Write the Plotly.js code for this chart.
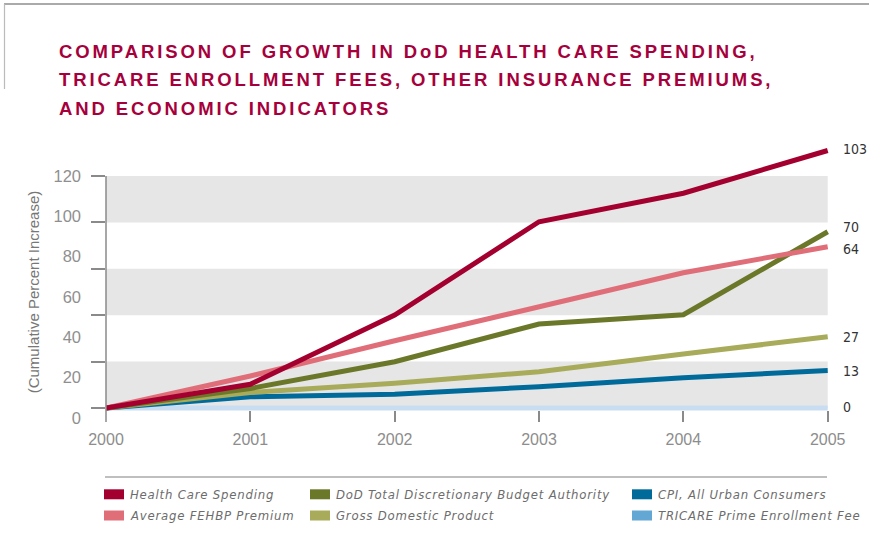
<!DOCTYPE html>
<html>
<head>
<meta charset="utf-8">
<script src="https://cdn.plot.ly/plotly-3.0.1.min.js"></script>
<style>
  html, body { margin: 0; padding: 0; background: #ffffff; }
  #chart { width: 869px; height: 554px; }
  /* title lines: letter-spaced */
  .annotation[data-index="0"] text, .annotation[data-index="1"] text, .annotation[data-index="2"] text {
    letter-spacing: 2.9px;
  }
  /* legend labels */
  .annotation[data-index="3"] text, .annotation[data-index="4"] text, .annotation[data-index="5"] text,
  .annotation[data-index="6"] text, .annotation[data-index="7"] text, .annotation[data-index="8"] text {
    letter-spacing: 0.8px;
  }
</style>
</head>
<body>
<div id="chart"></div>
<script>
// ---------------- DATA ----------------
const years = [2000, 2001, 2002, 2003, 2004, 2005];

const healthCareSpending = [0, 9.5, 37.2, 74.5, 85.9, 103];
const averageFehbpPremium = [0, 12.8, 26.9, 40.5, 54.1, 64.5];
const dodDiscretionaryBudget = [0, 7.8, 18.5, 33.6, 37.3, 70.5];
const grossDomesticProduct = [0, 6.2, 9.9, 14.5, 21.6, 28.5];
const cpiUrbanConsumers = [0, 4.5, 5.5, 8.5, 12.1, 15];
const tricareEnrollmentFee = [0, 0, 0, 0, 0, 0];

const endLabels = ['103', '64', '70', '27', '13', '0'];   // same order as seriesNames
const seriesNames = [
  'Health Care Spending',
  'Average FEHBP Premium',
  'DoD Total Discretionary Budget Authority',
  'Gross Domestic Product',
  'CPI, All Urban Consumers',
  'TRICARE Prime Enrollment Fee'
];

const yTickValues = [0, 20, 40, 60, 80, 100, 120];
const yTickLabels = ['0', '20', '40', '60', '80', '100', '120'];
const bandTickValues = [0, 20, 40, 60, 80, 100];

const titleLines = [
  'COMPARISON OF GROWTH IN DoD HEALTH CARE SPENDING,',
  'TRICARE ENROLLMENT FEES, OTHER INSURANCE PREMIUMS,',
  'AND ECONOMIC INDICATORS'
];
const yAxisTitle = '(Cumulative Percent Increase)';

// ---------------- STYLE / GEOMETRY ----------------
const seriesValues = [healthCareSpending, averageFehbpPremium, dodDiscretionaryBudget,
                      grossDomesticProduct, cpiUrbanConsumers, tricareEnrollmentFee];
const lineColors   = ['#a3002f', '#e06e79', '#6b7829', '#a8ab5a', '#006b9a', '#c8ddf1'];
const swatchColors = ['#a3002f', '#e06e79', '#6b7829', '#a8ab5a', '#006b9a', '#63a7d4'];
const labelShift   = [2, -2.5, 5, 0, 0, 1];         // px nudges of the end labels
const legendSlot   = [[0,0],[0,1],[1,0],[1,1],[2,0],[2,1]];   // [column,row]
const drawOrder    = [5, 4, 3, 2, 1, 0];

const L = 106, R = 836, T = 135, B = 422;          // plot area in px
const pxX = px => (px - L) / (R - L);
const pxY = py => (B - py) / (B - T);
const xPerYear = (827.7 - 106) / 5;
const xRange = [years[0], years[0] + (R - L) / xPerYear];
const rangeFor = (p0, s, top, bottom) => [(p0 - bottom) / s, (p0 - top) / s];
const yDataRange = rangeFor(408, 2.5, T, B);
const yBandRange = rangeFor(408, (408 - 176) / 100, T, B);
const labTop = 162;
const yLabelRange = rangeFor(418, (418 - 176) / 120, labTop, B);

const condensed = 'Liberation Sans Narrow, DejaVu Sans Condensed, sans-serif';
const plain = 'Liberation Sans, Arial, Helvetica, sans-serif';
const gridGray = '#8a8a8a';

// ---------------- TRACES ----------------
const traces = drawOrder.map(i => ({
  type: 'scatter',
  mode: 'lines',
  name: seriesNames[i],
  x: years,
  y: seriesValues[i],
  line: { color: lineColors[i], width: 5, shape: 'linear' },
  hoverinfo: 'x+y+name',
  showlegend: false
}));
// carrier for the labelled percent axis (draws nothing)
traces.push({ type: 'scatter', mode: 'lines', x: [years[0]], y: [null],
  xaxis: 'x', yaxis: 'y3', hoverinfo: 'skip', showlegend: false });

// ---------------- SHAPES ----------------
const shapes = [];
for (let i = 0; i < bandTickValues.length - 1; i += 2) {
  shapes.push({
    type: 'rect', layer: 'below', xref: 'x', yref: 'y2',
    x0: years[0], x1: years[years.length - 1],
    y0: bandTickValues[i], y1: bandTickValues[i + 1],
    fillcolor: '#e6e6e6', line: { width: 0 }
  });
}
// y axis line
shapes.push({ type: 'line', xref: 'paper', yref: 'paper', x0: 0, x1: 0,
  y0: pxY(176), y1: pxY(422), line: { color: gridGray, width: 1.5 } });
// page frame (top and left)
shapes.push({ type: 'line', xref: 'paper', yref: 'paper', x0: pxX(4), x1: pxX(869),
  y0: pxY(4), y1: pxY(4), line: { color: '#aaaaaa', width: 2 } });
shapes.push({ type: 'line', xref: 'paper', yref: 'paper', x0: pxX(4.5), x1: pxX(4.5),
  y0: pxY(4), y1: pxY(89), line: { color: '#bbbbbb', width: 1.2 } });
// legend separator
shapes.push({ type: 'line', xref: 'paper', yref: 'paper', x0: pxX(105), x1: pxX(827),
  y0: pxY(477), y1: pxY(477), line: { color: '#aaaaaa', width: 1.5 } });

const legendColX = [104, 310, 632];
const legendRowY = [494.3, 515.5];
const annotations = [];

titleLines.forEach((t, k) => {
  annotations.push({
    text: t, xref: 'paper', yref: 'paper',
    x: pxX(57), y: pxY([51.7, 79.6, 108.3][k]),
    xanchor: 'left', yanchor: 'middle', align: 'left', showarrow: false,
    font: { family: plain, size: 18.5, color: '#a6003c', weight: 'bold' }
  });
});

seriesNames.forEach((name, i) => {
  const [c, r] = legendSlot[i];
  const cx = legendColX[c], cy = legendRowY[r];
  shapes.push({ type: 'rect', xref: 'paper', yref: 'paper',
    x0: pxX(cx), x1: pxX(cx + 20), y0: pxY(cy - 5), y1: pxY(cy + 5),
    fillcolor: swatchColors[i], line: { width: 0 } });
  annotations.push({
    text: name, xref: 'paper', yref: 'paper',
    x: pxX(cx + 24), y: pxY(cy),
    xanchor: 'left', yanchor: 'middle', align: 'left', showarrow: false,
    font: { family: condensed, size: 13, color: '#6c6c6c', style: 'italic' }
  });
});

seriesNames.forEach((name, i) => {
  const v = seriesValues[i];
  annotations.push({
    text: endLabels[i], xref: 'x', yref: 'y',
    x: years[years.length - 1], y: v[v.length - 1],
    xshift: 13, yshift: labelShift[i],
    xanchor: 'left', yanchor: 'middle', align: 'left', showarrow: false,
    font: { family: condensed, size: 14, color: '#333333' }
  });
});

// ---------------- LAYOUT ----------------
const layout = {
  width: 869, height: 554,
  margin: { l: L, r: 869 - R, t: T, b: 554 - B, pad: 0 },
  paper_bgcolor: '#ffffff', plot_bgcolor: 'rgba(0,0,0,0)',
  showlegend: false,
  hovermode: 'closest',
  xaxis: {
    range: xRange, tickvals: years, ticktext: years.map(String),
    ticks: 'inside', ticklen: 11, tickwidth: 1.5, tickcolor: gridGray,
    showline: false, showgrid: false, zeroline: false, automargin: false,
    ticklabelstandoff: 6,
    tickfont: { family: plain, size: 16, color: '#8d8d8d' }
  },
  yaxis: {
    range: yDataRange, visible: false, showgrid: false, zeroline: false, automargin: false
  },
  yaxis2: {
    overlaying: 'y', side: 'left', range: yBandRange,
    tickvals: bandTickValues, showticklabels: false,
    ticks: 'outside', ticklen: 14, tickwidth: 1.5, tickcolor: gridGray,
    showline: false, showgrid: false, zeroline: false, automargin: false
  },
  yaxis3: {
    anchor: 'x', side: 'left', domain: [0, pxY(labTop)], range: yLabelRange,
    tickvals: yTickValues, ticktext: yTickLabels, ticks: '',
    ticklabelstandoff: 24,
    showline: false, showgrid: false, zeroline: false, automargin: false,
    tickfont: { family: plain, size: 16.5, color: '#8f8f8f' },
    title: { text: yAxisTitle, standoff: 10, font: { family: plain, size: 15, color: '#777777' } }
  },
  shapes: shapes,
  annotations: annotations
};

Plotly.newPlot('chart', traces, layout, { displayModeBar: false, responsive: false });
</script>
</body>
</html>
